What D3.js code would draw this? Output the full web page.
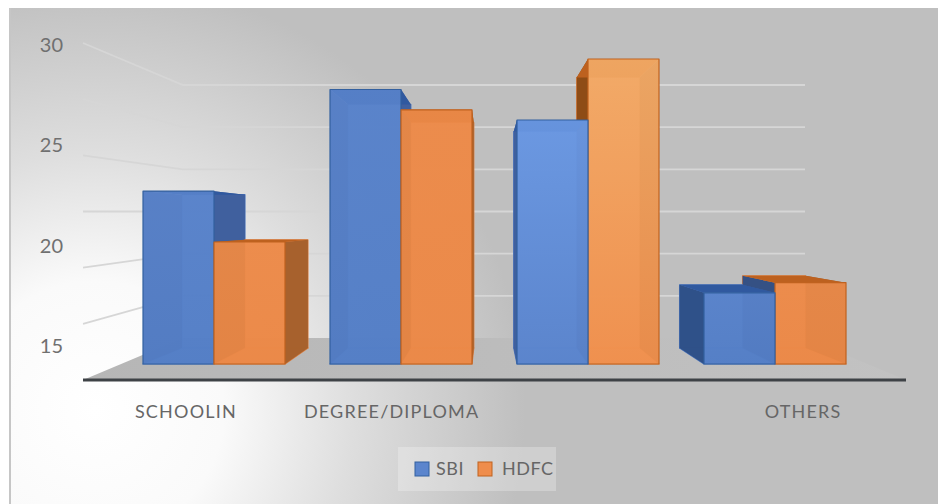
<!DOCTYPE html>
<html>
<head>
<meta charset="utf-8">
<script src="https://cdn.jsdelivr.net/npm/d3@7/dist/d3.min.js"></script>
<style>
  html, body { margin: 0; padding: 0; background: #fff; }
  svg { display: block; }
  text { font-family: Lato, "Open Sans", sans-serif; fill: #5f5f5f; }
</style>
</head>
<body>
<svg id="chart" width="938" height="504"></svg>
<script>
// Chart values
const categories = ["SCHOOLIN", "DEGREE/DIPLOMA", "", "OTHERS"];
const sbiValues = [23.5, 28.5, 27, 18.5];
const hdfcValues = [21, 27.5, 30, 19];
const valueTicks = [15, 20, 25, 30];
const gridValues = [17.5, 20, 22.5, 25, 27.5, 30];
const seriesNames = ["SBI", "HDFC"];

// Face colours per series, with a lighter front for the third group
const palette = {
  SBI: { front: ["#5b85cd", "#5580c8"], lit: ["#6f9de8", "#5c86cf"], side: "#3f5f9c", top: "#30599f", edge: "#33609f", inner: "#4a74bb" },
  HDFC: { front: ["#ef8d4c", "#ee8a48"], lit: ["#f6b06c", "#f3924f"], side: "#a4602c", top: "#bd611f", edge: "#c0621f", inner: "#dc7f42" }
};

const svg = d3.select("#chart");
const defs = svg.append("defs");

// Panel background: a soft light spot in the lower left fading to flat grey
const panelGlow = defs.append("radialGradient").attr("id", "panelGlow")
  .attr("gradientUnits", "userSpaceOnUse")
  .attr("cx", 95).attr("cy", 410).attr("r", 430);
[[0, "#ffffff"], [0.3, "#fafafa"], [0.6, "#dedede"], [1, "#bfbfbf"]].forEach(([o, c]) =>
  panelGlow.append("stop").attr("offset", o).attr("stop-color", c));

svg.append("rect").attr("x", 9).attr("y", 8).attr("width", 929).attr("height", 496).attr("fill", "url(#panelGlow)");
svg.append("rect").attr("x", 9).attr("y", 8).attr("width", 2).attr("height", 496).attr("fill", "#c6c6c6");

// Scales: the front and back planes of the wall, the bar plane and the label plane
const wallFront = d3.scaleLinear().domain([15, 30]).range([380, 43]);
const wallBack = d3.scaleLinear().domain([15, 30]).range([338, 85]);
const barY = d3.scaleLinear().domain([15, 30]).range([364, 59]);
const labelY = d3.scaleLinear().domain([15, 30]).range([346, 45]);
const groupX = d3.scaleBand().domain(d3.range(categories.length)).range([120.5, 868.5]);
const labelX = d3.scaleBand().domain(d3.range(categories.length)).range([83, 906]);
const seriesX = d3.scaleBand().domain(seriesNames).range([-71, 71]);

const wallLeft = 83, wallBackLeft = 183, wallBackRight = 805, wallRight = 906;

// Floor of the box, fading into the panel on the right
const floorFill = defs.append("linearGradient").attr("id", "floorFill")
  .attr("gradientUnits", "userSpaceOnUse")
  .attr("x1", wallLeft).attr("y1", 0).attr("x2", wallRight).attr("y2", 0);
floorFill.append("stop").attr("offset", 0).attr("stop-color", "#b6b6b6");
floorFill.append("stop").attr("offset", 0.5).attr("stop-color", "#bcbcbc");
floorFill.append("stop").attr("offset", 1).attr("stop-color", "#c2c2c2");
svg.append("polygon")
  .attr("points", [[wallLeft, wallFront(15)], [wallBackLeft, wallBack(15)], [wallBackRight, wallBack(15)], [wallRight, wallFront(15)]].join(" "))
  .attr("fill", "url(#floorFill)");

// Gridlines run along the side wall and then across the back wall
const grid = d3.line();
svg.append("g").selectAll("path").data(gridValues).join("path")
  .attr("d", v => grid([[wallLeft, wallFront(v)], [wallBackLeft, wallBack(v)], [wallBackRight, wallBack(v)]]))
  .attr("fill", "none").attr("stroke", "#d6d6d6").attr("stroke-width", 1.8);

// Baseline
svg.append("line")
  .attr("x1", wallLeft).attr("x2", wallRight)
  .attr("y1", wallFront(15)).attr("y2", wallFront(15))
  .attr("stroke", "#3e4246").attr("stroke-width", 3);

// Perspective projection of a bar's front corners onto its back plane
const vanishX = 488, vanishY = 222, depth = 0.887;
const back = ([x, y]) => [vanishX + (x - vanishX) * depth, vanishY + (y - vanishY) * depth];

const bars = [];
categories.forEach((c, i) => {
  seriesNames.forEach((name, k) => {
    const value = (k === 0 ? sbiValues : hdfcValues)[i];
    const x0 = groupX(i) + groupX.bandwidth() / 2 + seriesX(name);
    const x1 = x0 + seriesX.bandwidth();
    bars.push({ i, name, x0, x1, yTop: barY(value), yBase: barY(15) });
  });
});
// Paint the bars furthest from the vanishing point first
bars.sort((a, b) => Math.abs(b.x0 + b.x1 - 2 * vanishX) - Math.abs(a.x0 + a.x1 - 2 * vanishX));

const barLayer = svg.append("g");
const polygon = (g, pts, fill, stroke, opacity) => g.append("polygon")
  .attr("points", pts.join(" "))
  .attr("fill", fill).attr("fill-opacity", opacity)
  .attr("stroke", stroke).attr("stroke-width", 1.2).attr("stroke-linejoin", "round");

bars.forEach((b, n) => {
  const col = palette[b.name];
  const stops = b.i === 2 ? col.lit : col.front;
  const gradientId = "front" + n;
  const gradient = defs.append("linearGradient").attr("id", gradientId)
    .attr("x1", 0).attr("y1", 0).attr("x2", 0).attr("y2", 1);
  gradient.append("stop").attr("offset", 0).attr("stop-color", stops[0]);
  gradient.append("stop").attr("offset", 1).attr("stop-color", stops[1]);

  // The left wall of a bar right of centre faces the viewer and sits in shadow
  const leftShade = b.i === 3 ? "#2e4f86" : (b.i === 2 && b.name === "HDFC" ? "#8a4a14" : col.side);

  const tl = [b.x0, b.yTop], tr = [b.x1, b.yTop], br = [b.x1, b.yBase], bl = [b.x0, b.yBase];
  const g = barLayer.append("g");
  polygon(g, [back(tl), back(tr), back(br), back(bl)], col.inner, col.inner, 0.9);
  polygon(g, [bl, br, back(br), back(bl)], col.inner, col.inner, 0.9);
  polygon(g, [tl, bl, back(bl), back(tl)], leftShade, "none", 0.96);
  polygon(g, [tr, br, back(br), back(tr)], col.side, "none", 0.96);
  polygon(g, [tl, tr, back(tr), back(tl)], col.top, "none", 1);
  polygon(g, [tl, tr, br, bl], `url(#${gradientId})`, col.edge, 0.86);
});

// Value labels
const yAxis = svg.append("g").attr("transform", "translate(63,0)")
  .call(d3.axisLeft(labelY).tickValues(valueTicks).tickSize(0).tickPadding(0));
yAxis.select(".domain").remove();
yAxis.selectAll("text").attr("font-size", 20).style("font-family", "Lato, sans-serif").style("fill", "#707070");

// Category labels
const xAxis = svg.append("g").attr("transform", "translate(0,404)")
  .call(d3.axisBottom(labelX).tickFormat(i => categories[i]).tickSize(0).tickPadding(0));
xAxis.select(".domain").remove();
xAxis.selectAll("text").attr("font-size", 18).attr("dy", "0.32em").attr("y", 8)
  .style("font-family", "Lato, sans-serif").style("fill", "#666666").style("letter-spacing", "1.2px");

// Legend
const legend = svg.append("g");
legend.append("rect").attr("x", 398).attr("y", 447).attr("width", 158).attr("height", 44)
  .attr("fill", "#ffffff").attr("fill-opacity", 0.25);
const legendItems = [{ x: 415, tx: 436 }, { x: 478, tx: 502 }];
seriesNames.forEach((name, k) => {
  legend.append("rect").attr("x", legendItems[k].x).attr("y", 462).attr("width", 14).attr("height", 14)
    .attr("fill", palette[name].front[0]).attr("stroke", palette[name].edge).attr("stroke-width", 1);
  legend.append("text").attr("x", legendItems[k].tx).attr("y", 475)
    .attr("font-size", 18).style("letter-spacing", "0.5px").style("fill", "#666666").text(name);
});
</script>
</body>
</html>
